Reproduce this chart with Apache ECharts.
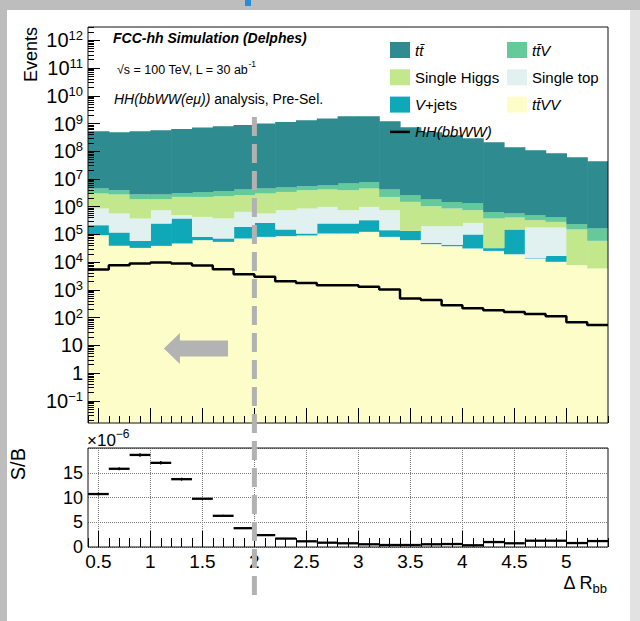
<!DOCTYPE html>
<html>
<head>
<meta charset="utf-8">
<title>Delta R_bb</title>
<script src="https://cdn.jsdelivr.net/npm/echarts@6.0.0/dist/echarts.min.js"></script>
<style>
html,body{margin:0;padding:0;background:#ffffff;}
#chart{width:640px;height:621px;}
</style>
</head>
<body>
<div id="chart"></div>
<script>
// ---------------- data ----------------
const binEdges = [0.4,0.6,0.8,1.0,1.2,1.4,1.6,1.8,2.0,2.2,2.4,2.6,2.8,3.0,3.2,3.4,3.6,3.8,4.0,4.2,4.4,4.6,4.8,5.0,5.2,5.4];

const ttbar = [5.21e8,4.80e8,5.23e8,5.68e8,6.34e8,7.12e8,7.92e8,8.83e8,9.91e8,1.135e9,1.305e9,1.504e9,1.813e9,1.812e9,1.206e9,7.30e8,4.82e8,3.77e8,2.93e8,2.10e8,1.384e8,1.085e8,8.43e7,6.06e7,4.35e7];
const ttV = [1.54e6,1.18e6,8.9e5,8.9e5,8.9e5,1.16e6,1.32e6,1.57e6,1.54e6,1.51e6,1.55e6,1.79e6,2.93e6,3.30e6,1.92e6,1.11e6,7.8e5,6.29e5,5.52e5,2.74e5,1.61e5,1.68e5,1.46e5,8.3e4,1.054e5];
const singleHiggs = [2.13e6,2.18e6,1.48e6,1.11e6,1.76e6,1.82e6,2.01e6,1.95e6,2.42e6,2.66e6,3.07e6,3.19e6,3.18e6,3.55e6,1.50e6,1.36e6,8.42e5,6.63e5,4.87e5,3.44e5,2.57e5,1.48e5,1.05e5,1.43e5,5.27e4];
const singleTop = [6.46e5,4.51e5,3.17e5,5.0e5,1.18e5,3.47e5,3.05e5,4.63e5,3.08e5,5.97e5,7.53e5,7.36e5,5.0e5,6.58e5,6.06e5,0,1.48e5,1.56e5,1.61e5,0,0,1.64e5,1.61e5,0,0];
const vJets = [1.21e5,7.93e4,2.59e4,2.09e5,3.29e5,1.95e4,1.75e4,1.16e5,1.79e5,6.45e4,1.63e4,1.40e5,1.40e5,2.02e5,6.04e4,7.19e4,5.0e3,4.3e3,6.84e4,6.5e3,1.316e5,7.0e2,6.6e3,0,0];
const ttVV = [9.40e4,3.87e4,3.27e4,3.87e4,4.72e4,6.21e4,5.40e4,7.15e4,8.16e4,8.65e4,9.17e4,1.08e5,1.08e5,1.24e5,8.16e4,6.21e4,4.46e4,3.77e4,3.12e4,2.55e4,1.94e4,1.36e4,1.03e4,7.80e3,5.93e3];
const hhSignal = [5460,7800,8980,9750,8980,7600,5590,3700,2950,2070,1790,1480,1480,1290,1040,492,428,282,220,186,158,134,113,68.8,53.7];

// S/B in units of 1e-6
const sOverB = [10.7,15.8,18.6,17.0,13.7,9.75,6.3,3.8,2.4,1.7,1.15,0.87,0.75,0.55,0.4,0.4,0.55,0.6,0.35,1.0,0.75,1.27,1.27,0.8,1.2];
const sOverBErr = [0.3,0.3,0.35,0.35,0.3,0.25,0.2,0.15,0.12,0.1,0.08,0.06,0.06,0.05,0.05,0.05,0.05,0.05,0.05,0.06,0.06,0.08,0.08,0.07,0.08];

// ticks
const xTickValues = [0.5,1,1.5,2,2.5,3,3.5,4,4.5,5];
const xTickLabels = ['0.5','1','1.5','2','2.5','3','3.5','4','4.5','5'];
const yTickExponents = [-1,0,1,2,3,4,5,6,7,8,9,10,11,12];
const minorMultipliers = [2,3,4,5,6,7,8,9];
const sbTickValues = [0,5,10,15];
const sbTickLabels = ['0','5','10','15'];

// cut and arrow annotation (data coordinates)
const cutValue = 2.0;
const arrowTipX = 1.13, arrowTailX = 1.746, arrowEvents = 7.7;

// ---------------- layout / style ----------------
const FONT = 'Liberation Sans, Arial, Helvetica, sans-serif';
const X_MIN = 0.4, X_MAX = 5.4;
const Y_LOG_MIN = -1.8, Y_LOG_MAX = 12.48;
const SB_MIN = 0, SB_MAX = 20;
const GRID_DOT = {type:'dotted', color:'#7a7a7a', width:1};

const layers = [
  {name:'t t̄VV', data: ttVV, color:'#fdfdca'},
  {name:'V+jets', data: vJets, color:'#0ea8b9'},
  {name:'Single top', data: singleTop, color:'#e1f1f0'},
  {name:'Single Higgs', data: singleHiggs, color:'#c3e78c'},
  {name:'t t̄V', data: ttV, color:'#65c99a'},
  {name:'t t̄', data: ttbar, color:'#2e8b8f'}
];
const legendLabel = {
  't t̄': '{i|tt\u0304}',
  't t̄V': '{i|tt\u0304V}',
  'Single Higgs': '{n|Single Higgs}',
  'Single top': '{n|Single top}',
  'V+jets': '{i|V}{n|+jets}',
  't t̄VV': '{i|tt\u0304VV}',
  'HH(bbWW)': '{i|HH(bbWW)}'
};

// cumulative stack (log10 space for the log axis)
const cum = new Array(ttbar.length).fill(0);
const layerSeries = layers.map(function(L){
  const rows = L.data.map(function(v, i){
    const lo = cum[i];
    const hi = cum[i] + v;
    cum[i] = hi;
    return [binEdges[i], binEdges[i+1], lo > 0 ? Math.log10(lo) : Y_LOG_MIN, hi > 0 ? Math.log10(hi) : Y_LOG_MIN];
  });
  return {
    type:'custom', name:L.name, xAxisIndex:0, yAxisIndex:0,
    itemStyle:{color:L.color},
    data: rows,
    encode:{x:[0,1], y:[2,3]},
    clip:true, silent:true, z:2,
    renderItem: function(params, api){
      const x0 = api.value(0), x1 = api.value(1), y0 = api.value(2), y1 = api.value(3);
      if (!(y1 > y0 + 1e-9)) return null;
      const p0 = api.coord([x0, y0]), p1 = api.coord([x1, y1]);
      return {type:'rect', shape:{x:p0[0], y:p1[1], width:p1[0]-p0[0]+0.6, height:p0[1]-p1[1]}, style:{fill:L.color}};
    }
  };
});

const hhData = binEdges.map(function(x, i){ return [x, Math.log10(hhSignal[Math.min(i, hhSignal.length-1)])]; });

const xMinor = [];
for (let k = 4; k <= 54; k++) { if (k % 5 !== 0) xMinor.push(k/10); }
const yMinor = [];
for (let e = -2; e <= 12; e++) {
  minorMultipliers.forEach(function(m){ const v = e + Math.log10(m); if (v >= Y_LOG_MIN && v <= Y_LOG_MAX) yMinor.push(v); });
}

function expLabel(v){
  const e = Math.round(v);
  if (e === 0) return '{b|1}';
  if (e === 1) return '{b|10}';
  return '{b|10}{s|' + (e < 0 ? '\u2212' + (-e) : e) + '}';
}
function xLabel(v){
  const idx = xTickValues.findIndex(function(t){ return Math.abs(t - v) < 1e-6; });
  return idx >= 0 ? xTickLabels[idx] : '';
}
function sbLabel(v){
  const idx = sbTickValues.findIndex(function(t){ return Math.abs(t - v) < 1e-6; });
  return idx >= 0 ? sbTickLabels[idx] : '';
}

const tickStyle = {color:'#000', width:1};
const noLine = {show:false, onZero:false};
const legendText = {
  fontFamily:FONT, fontSize:15, color:'#000', lineHeight:16,
  rich:{ i:{fontStyle:'italic', fontSize:15, fontFamily:FONT, lineHeight:16}, n:{fontSize:15, fontFamily:FONT, lineHeight:16} }
};

const chart = echarts.init(document.getElementById('chart'), null, {renderer:'svg', width:640, height:621});

const option = {
  animation:false,
  backgroundColor:'#ffffff',
  textStyle:{fontFamily:FONT},
  grid:[
    {left:88, top:27, width:520, height:396, containLabel:false},
    {left:88, top:448, width:520, height:99, containLabel:false}
  ],
  xAxis:[
    {gridIndex:0, type:'value', min:X_MIN, max:X_MAX, position:'bottom', z:10,
     axisLine:noLine, axisLabel:{show:false}, splitLine:{show:false},
     axisTick:{show:true, inside:true, length:15, customValues:xTickValues, lineStyle:tickStyle}},
    {gridIndex:0, type:'value', min:X_MIN, max:X_MAX, position:'bottom', z:10,
     axisLine:noLine, axisLabel:{show:false}, splitLine:{show:false},
     axisTick:{show:true, inside:true, length:7, customValues:xMinor, lineStyle:tickStyle}},
    {gridIndex:1, type:'value', min:X_MIN, max:X_MAX, position:'bottom', z:10,
     axisLine:noLine,
     axisLabel:{show:true, customValues:xTickValues, formatter:xLabel, fontSize:19, fontFamily:FONT, color:'#000', margin:5},
     splitLine:{show:false},
     axisTick:{show:true, inside:true, length:16, customValues:xTickValues, lineStyle:tickStyle}},
    {gridIndex:1, type:'value', min:X_MIN, max:X_MAX, position:'bottom', z:10,
     axisLine:noLine, axisLabel:{show:false}, splitLine:{show:false},
     axisTick:{show:true, inside:true, length:9, customValues:xMinor, lineStyle:tickStyle}}
  ],
  yAxis:[
    {gridIndex:0, type:'value', min:Y_LOG_MIN, max:Y_LOG_MAX, position:'left', z:10,
     axisLine:noLine, splitLine:{show:false},
     axisTick:{show:true, inside:true, length:12, customValues:yTickExponents, lineStyle:tickStyle},
     axisLabel:{show:true, customValues:yTickExponents, formatter:expLabel, margin:5, color:'#000',
       rich:{ b:{fontSize:20, lineHeight:22, fontFamily:FONT, color:'#000'},
              s:{fontSize:13, lineHeight:13, fontFamily:FONT, color:'#000', verticalAlign:'top'} }}},
    {gridIndex:0, type:'value', min:Y_LOG_MIN, max:Y_LOG_MAX, position:'left', z:10,
     axisLine:noLine, splitLine:{show:false}, axisLabel:{show:false},
     axisTick:{show:true, inside:true, length:6, customValues:yMinor, lineStyle:tickStyle}},
    {gridIndex:1, type:'value', min:SB_MIN, max:SB_MAX, interval:5, position:'left', z:10,
     axisLine:noLine, axisTick:{show:false},
     splitLine:{show:true, lineStyle:GRID_DOT},
     axisLabel:{show:true, customValues:sbTickValues, formatter:sbLabel, fontSize:18, fontFamily:FONT, color:'#000', margin:5}}
  ],
  legend:[
    {left:390, top:42, orient:'vertical', itemWidth:20, itemHeight:16, itemGap:11.3, padding:0, selectedMode:false,
     data:[{name:'t t̄', icon:'rect'},{name:'Single Higgs', icon:'rect'},{name:'V+jets', icon:'rect'},
           {name:'HH(bbWW)', icon:'path://M0,0H40V5H0Z'}],
     formatter:function(n){ return legendLabel[n]; }, textStyle:legendText},
    {left:507, top:42, orient:'vertical', itemWidth:20, itemHeight:16, itemGap:11.3, padding:0, selectedMode:false,
     data:[{name:'t t̄V', icon:'rect'},{name:'Single top', icon:'rect'},{name:'t t̄VV', icon:'rect'}],
     formatter:function(n){ return legendLabel[n]; }, textStyle:legendText}
  ],
  series: layerSeries.concat([
    {type:'line', name:'HH(bbWW)', xAxisIndex:0, yAxisIndex:0, data:hhData, step:'end', symbol:'none', showSymbol:false,
     lineStyle:{color:'#000', width:2.5}, itemStyle:{color:'#000'}, z:6, silent:true, clip:true},
    {type:'custom', name:'S/B', xAxisIndex:2, yAxisIndex:2, clip:true, z:6, silent:true,
     data: sOverB.map(function(v, i){ return [binEdges[i], binEdges[i+1], v, sOverBErr[i]]; }),
     encode:{x:[0,1], y:[2]},
     markLine:{silent:true, symbol:['none','none'], label:{show:false}, lineStyle:GRID_DOT, z:1,
       animation:false, data: xTickValues.map(function(v){ return {xAxis:v}; })},
     renderItem:function(params, api){
       const x0 = api.value(0), x1 = api.value(1), v = api.value(2), e = api.value(3);
       const a = api.coord([x0, v]), b = api.coord([x1, v]);
       const xm = (x0 + x1) / 2;
       const t = api.coord([xm, v + e]), d = api.coord([xm, v - e]);
       return {type:'group', children:[
         {type:'line', shape:{x1:a[0], y1:a[1], x2:b[0], y2:b[1]}, style:{stroke:'#000', lineWidth:2.3}},
         {type:'line', shape:{x1:t[0], y1:t[1], x2:d[0], y2:d[1]}, style:{stroke:'#000', lineWidth:1.4}}
       ]};
     }}
  ])
};
chart.setOption(option);

// ---------------- annotations ----------------
const UP = {xAxisIndex:0, yAxisIndex:0};
const LOW = {xAxisIndex:2, yAxisIndex:2};
const uTL = chart.convertToPixel(UP, [X_MIN, Y_LOG_MAX]);
const uBR = chart.convertToPixel(UP, [X_MAX, Y_LOG_MIN]);
const lTL = chart.convertToPixel(LOW, [X_MIN, SB_MAX]);
const lBR = chart.convertToPixel(LOW, [X_MAX, SB_MIN]);
const cutTop = chart.convertToPixel(UP, [cutValue, 9.235]);
const cutBot = chart.convertToPixel(LOW, [cutValue, -11.3]);
const tip = chart.convertToPixel(UP, [arrowTipX, Math.log10(arrowEvents)]);
const tail = chart.convertToPixel(UP, [arrowTailX, Math.log10(arrowEvents)]);
const ay = tip[1], hx = tip[0] + 16;

chart.setOption({
  graphic:[
    // page decoration
    {type:'rect', id:'bTop', shape:{x:0, y:0, width:640, height:10}, style:{fill:'#bdbdbd'}, z:1},
    {type:'rect', id:'bLeft', shape:{x:0, y:0, width:7, height:621}, style:{fill:'#bdbdbd'}, z:1},
    {type:'rect', id:'bRight', shape:{x:630, y:10, width:10, height:611}, style:{fill:'#e2e2e2'}, z:1},
    {type:'rect', id:'bBlue', shape:{x:245, y:0, width:6, height:6}, style:{fill:'#2a8bd6'}, z:2},
    // frames
    {type:'rect', id:'fUp', shape:{x:uTL[0], y:uTL[1], width:uBR[0]-uTL[0], height:uBR[1]-uTL[1]}, style:{fill:'none', stroke:'#111', lineWidth:1}, z:50},
    {type:'rect', id:'fLow', shape:{x:lTL[0], y:lTL[1], width:lBR[0]-lTL[0], height:lBR[1]-lTL[1]}, style:{fill:'none', stroke:'#111', lineWidth:1}, z:50},
    // cut line and arrow
    {type:'line', id:'cut', shape:{x1:cutTop[0], y1:cutTop[1], x2:cutBot[0], y2:cutBot[1]}, style:{stroke:'#b2b2b2', lineWidth:5, lineDash:[19,8]}, z:100},
    {type:'polygon', id:'arrow', shape:{points:[[tip[0], ay],[hx, ay-15.5],[hx, ay-8],[tail[0], ay-8],[tail[0], ay+8],[hx, ay+8],[hx, ay+15.5]]}, style:{fill:'#b3b3b3'}, z:60},
    // texts
    {type:'text', id:'t1', x:113, y:38, z:70, style:{text:'FCC-hh Simulation (Delphes)', fontFamily:FONT, fontSize:14, fontWeight:'bold', fontStyle:'italic', fill:'#000', align:'left', verticalAlign:'middle'}},
    {type:'text', id:'t2', x:117, y:70, z:70, style:{text:'{n|\u221As = 100 TeV, L = 30 ab}{s|-1}', fill:'#000', align:'left', verticalAlign:'middle',
      rich:{n:{fontFamily:FONT, fontSize:12.5, lineHeight:22, fill:'#000'}, s:{fontFamily:FONT, fontSize:8.5, lineHeight:9, verticalAlign:'top', fill:'#000'}}}},
    {type:'text', id:'t3', x:114, y:99, z:70, style:{text:'{i|HH(bbWW(e\u03BC))}{n| analysis, Pre-Sel.}', fill:'#000', align:'left', verticalAlign:'middle',
      rich:{i:{fontFamily:FONT, fontSize:14, fontStyle:'italic', fill:'#000'}, n:{fontFamily:FONT, fontSize:14, fill:'#000'}}}},
    {type:'text', id:'tEv', x:31, y:27, rotation:Math.PI/2, z:70, style:{text:'Events', fontFamily:FONT, fontSize:18, fill:'#000', align:'right', verticalAlign:'middle'}},
    {type:'text', id:'tSB', x:18, y:448, rotation:Math.PI/2, z:70, style:{text:'S/B', fontFamily:FONT, fontSize:20, fill:'#000', align:'right', verticalAlign:'middle'}},
    {type:'text', id:'tSc', x:87, y:440, z:70, style:{text:'{a|\u00D710}{b|\u22126}', fill:'#000', align:'left', verticalAlign:'middle',
      rich:{a:{fontFamily:FONT, fontSize:17, lineHeight:24, fill:'#000'}, b:{fontFamily:FONT, fontSize:12, lineHeight:12, verticalAlign:'top', fill:'#000'}}}},
    {type:'text', id:'tX', x:607, y:583, z:70, style:{text:'{a|\u0394 R}{s|bb}', fill:'#000', align:'right', verticalAlign:'middle',
      rich:{a:{fontFamily:FONT, fontSize:18, lineHeight:24, fill:'#000'}, s:{fontFamily:FONT, fontSize:13, lineHeight:13, verticalAlign:'bottom', fill:'#000'}}}}
  ]
});
</script>
</body>
</html>
